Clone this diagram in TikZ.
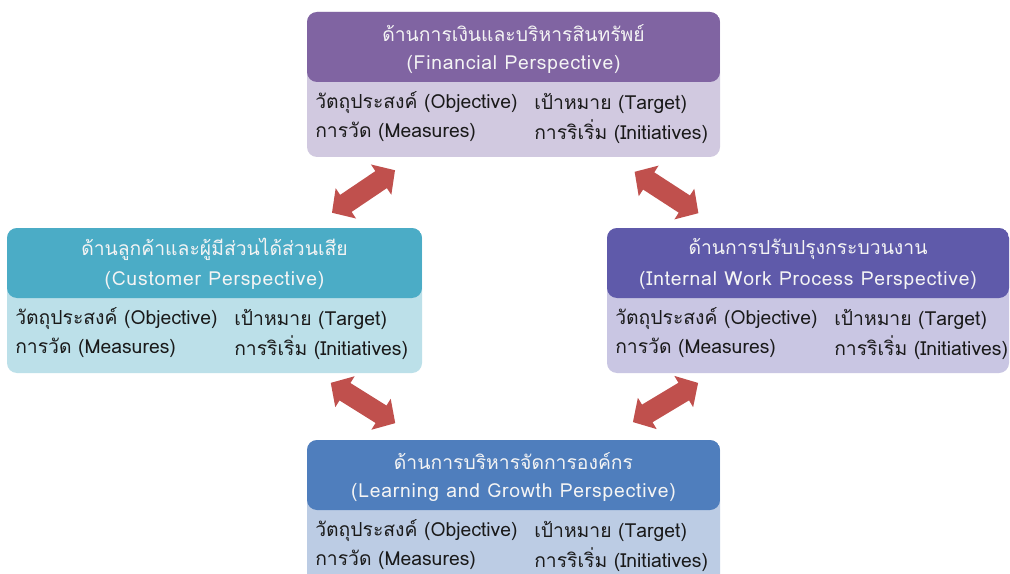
\documentclass[tikz,border=0pt]{standalone}
\usepackage{fontspec}
\newfontfamily\thaifont[Script=Thai]{Loma}
\newfontfamily\widefont[Script=Thai, LetterSpace=4]{Loma}
\usetikzlibrary{shapes.arrows}
\definecolor{finH}{HTML}{8064A2}
\definecolor{finB}{HTML}{D1C9E0}
\definecolor{cusH}{HTML}{4BACC6}
\definecolor{cusB}{HTML}{BCE0E9}
\definecolor{intH}{HTML}{5F5AAA}
\definecolor{intB}{HTML}{C9C6E3}
\definecolor{lrnH}{HTML}{4F7EBD}
\definecolor{lrnB}{HTML}{BCCCE4}
\definecolor{arrowred}{HTML}{C0504D}
\definecolor{titletext}{HTML}{F4F4F4}
\definecolor{itemtext}{HTML}{1A1A1A}
\tikzset{
  bscbox/.style={rectangle, rounded corners=7.5pt, inner sep=0pt, draw=none},
  title/.style={inner sep=0pt, text=titletext, font=\thaifont\fontsize{14.5}{17}\selectfont},
  entitle/.style={inner sep=0pt, text=titletext, font=\widefont\fontsize{14.5}{17}\selectfont},
  item/.style={inner sep=0pt, anchor=west, text=itemtext, font=\thaifont\fontsize{14.5}{17}\selectfont},
  bigarrow/.style={double arrow, fill=arrowred, draw=none, inner xsep=0pt, inner ysep=7.5pt,
    minimum height=57pt, double arrow head extend=6pt,
    double arrow tip angle=95},
}
% #1 name, #2 left, #3 top, #4 width, #5 header colour, #6 body colour, #7 thai, #8 english
\newcommand\bsc[8]{%
  \node[bscbox, fill=#6, minimum width=#4*0.75pt, minimum height=108.75pt,
    path picture={\fill[#5] (path picture bounding box.north west) rectangle
      ([yshift=-52.5pt]path picture bounding box.north east);}]
    (#1) at ({#2+#4/2}, {#3+72.5}) {};
  \node[title] (#1-th) at ({#2+#4/2}, {#3+21}) {#7};
  \node[entitle] (#1-en) at ({#2+#4/2}, {#3+52}) {#8};
  \node[item] (#1-obj) at ({#2+8}, {#3+91}) {วัตถุประสงค์ (Objective)};
  \node[item] (#1-tgt) at ({#2+227}, {#3+91}) {เป้าหมาย (Target)};
  \node[item] (#1-mea) at ({#2+8}, {#3+120}) {การวัด (Measures)};
  \node[item] (#1-ini) at ({#2+227}, {#3+120}) {การริเริ่ม (Initiatives)};
}
\begin{document}
\begin{tikzpicture}[x=0.75pt, y=-0.75pt]
\clip (0,0) rectangle (1010,574);
\fill[white] (0,0) rectangle (1010,574);
\bsc{fin}{307}{12}{413}{finH}{finB}{ด้านการเงินและบริหารสินทรัพย์}{(Financial Perspective)}
\bsc{cus}{7}{228}{415}{cusH}{cusB}{ด้านลูกค้าและผู้มีส่วนได้ส่วนเสีย}{(Customer Perspective)}
\bsc{int}{607}{228}{402}{intH}{intB}{ด้านการปรับปรุงกระบวนงาน}{(Internal Work Process Perspective)}
\bsc{lrn}{307}{440}{413}{lrnH}{lrnB}{ด้านการบริหารจัดการองค์กร}{(Learning and Growth Perspective)}
\node[bigarrow, rotate=34] (a1) at (363.5,191.5) {};
\node[bigarrow, rotate=-33] (a2) at (666.5,192.5) {};
\node[bigarrow, rotate=-32] (a3) at (363,403) {};
\node[bigarrow, rotate=31] (a4) at (665.5,402.5) {};
\end{tikzpicture}
\end{document}
